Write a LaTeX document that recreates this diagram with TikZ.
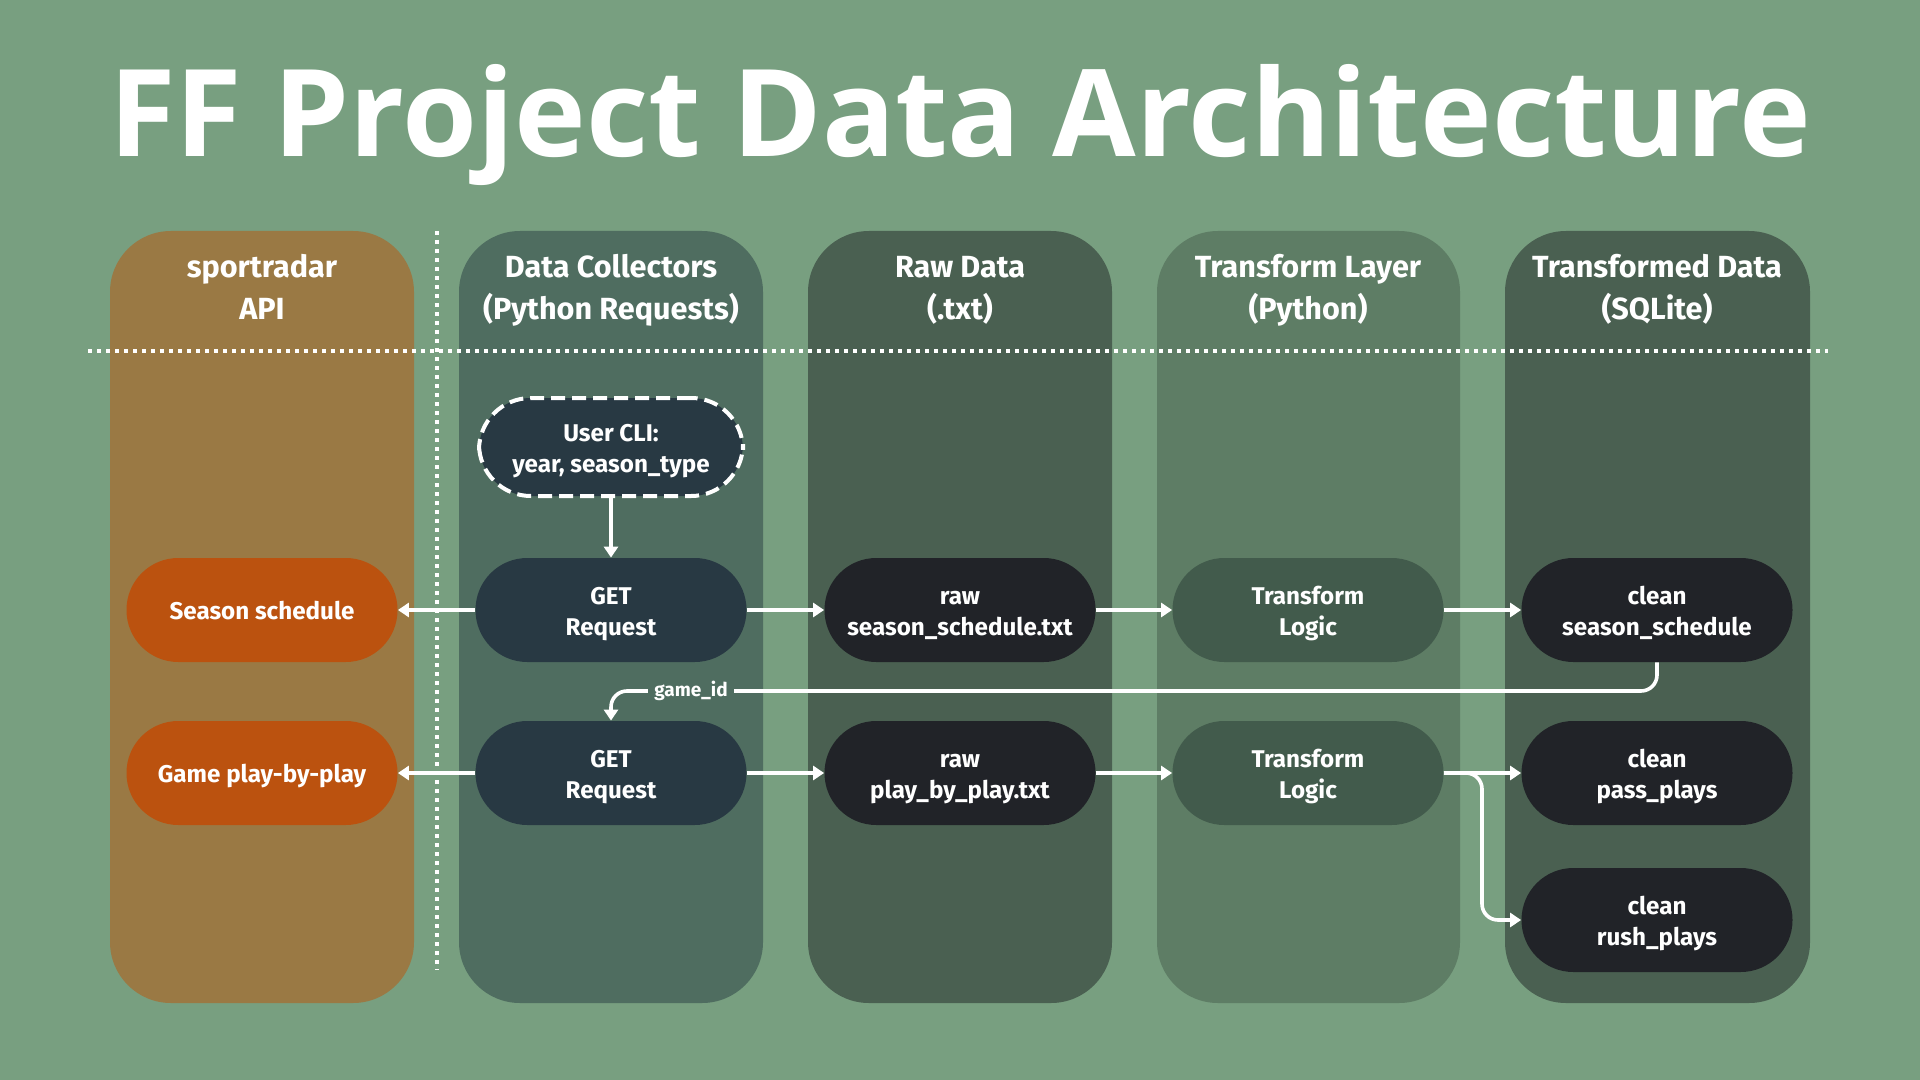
\documentclass[tikz,border=0pt]{standalone}
\usepackage{fontspec}
\setmainfont{Fira Sans}
\newfontfamily\titlefont{Open Sans}
\usetikzlibrary{arrows.meta}
\definecolor{bgc}{HTML}{789F80}
\definecolor{colA}{HTML}{9A7944}
\definecolor{colB}{HTML}{4F6D60}
\definecolor{colC}{HTML}{4A6051}
\definecolor{colD}{HTML}{5E7D65}
\definecolor{colE}{HTML}{4A6051}
\definecolor{orng}{HTML}{BB520F}
\definecolor{getc}{HTML}{283943}
\definecolor{darkc}{HTML}{212328}
\definecolor{trc}{HTML}{425B4C}
\newcommand\pst{\rule[-2.85pt]{0pt}{15.5pt}}
\tikzset{
  lane/.style={rounded corners=30.5pt},
  hdr/.style={text=white, font=\bfseries\fontsize{15.3pt}{20.8pt}\selectfont, align=center},
  pill/.style={rounded corners=25.9pt, minimum width=135.5pt, minimum height=52pt, text=white,
     font=\bfseries\fontsize{12.1pt}{15.5pt}\selectfont, align=center, inner sep=0pt},
  arr/.style={draw=white, line width=1.8pt, -{Triangle[length=5.5pt,width=7pt]}},
  dotline/.style={draw=white, line width=1.8pt, dash pattern=on 1.8pt off 2.7pt},
}
\begin{document}
\begin{tikzpicture}[x=0.5pt,y=-0.5pt]
\fill[bgc] (0,0) rectangle (1920,1080);
\useasboundingbox (0,0) rectangle (1920,1080);
% title
\node[text=white, font=\titlefont\bfseries\fontsize{60.6pt}{70pt}\selectfont, anchor=base] (title) at (960,157) {FF Project Data Architecture};
% lanes
\fill[colA, lane] (110,231) rectangle (414,1003);
\fill[colB, lane] (459,231) rectangle (763,1003);
\fill[colC, lane] (808,231) rectangle (1112,1003);
\fill[colD, lane] (1157,231) rectangle (1460,1003);
\fill[colE, lane] (1505,231) rectangle (1810,1003);
% dotted separators
\coordinate (vtop) at (437,231);
\coordinate (vbot) at (437,970);
\coordinate (hl) at (88,351);
\coordinate (hr) at (1828,351);
\draw[dotline] (vtop) -- (vbot);
\draw[dotline] (hl) -- (hr);
% headers
\node[hdr] (h1) at (262,290) {\strut sportradar\\\strut API};
\node[hdr] (h2) at (611,290) {\strut Data Collectors\\\strut (Python Requests)};
\node[hdr] (h3) at (960,290) {\strut Raw Data\\\strut (.txt)};
\node[hdr] (h4) at (1308,290) {\strut Transform Layer\\\strut (Python)};
\node[hdr] (h5) at (1657,290) {\strut Transformed Data\\\strut (SQLite)};
% nodes
\node[pill, fill=getc, draw=white, line width=2pt, dash pattern=on 7pt off 3.5pt, minimum width=132pt, minimum height=49pt] (cli) at (611,447) {\pst User CLI:\\\pst year, season\_type};
\node[pill, fill=orng] (s1) at (262,610) {\pst Season schedule};
\node[pill, fill=getc] (g1) at (611,610) {\pst GET\\\pst Request};
\node[pill, fill=darkc] (r1) at (960,610) {\pst raw\\\pst season\_schedule.txt};
\node[pill, fill=trc] (t1) at (1308,610) {\pst Transform\\\pst Logic};
\node[pill, fill=darkc] (c1) at (1657,610) {\pst clean\\\pst season\_schedule};
\node[pill, fill=orng] (s2) at (262,773) {\pst Game play-by-play};
\node[pill, fill=getc] (g2) at (611,773) {\pst GET\\\pst Request};
\node[pill, fill=darkc] (r2) at (960,773) {\pst raw\\\pst play\_by\_play.txt};
\node[pill, fill=trc] (t2) at (1308,773) {\pst Transform\\\pst Logic};
\node[pill, fill=darkc] (c2) at (1657,773) {\pst clean\\\pst pass\_plays};
\node[pill, fill=darkc] (c3) at (1657,920) {\pst clean\\\pst rush\_plays};
% connectors
\draw[arr] (cli) -- (g1);
\draw[arr] (g1) -- (s1);
\draw[arr] (g1) -- (r1);
\draw[arr] (r1) -- (t1);
\draw[arr] (t1) -- (c1);
\draw[arr] (g2) -- (s2);
\draw[arr] (g2) -- (r2);
\draw[arr] (r2) -- (t2);
\draw[arr] (t2) -- (c2);
\coordinate (bx) at (1482,773);
\coordinate (by) at (1482,920);
\draw[arr, rounded corners=8pt] (t2.east) -- (bx) -- (by) -- (c3.west);
\coordinate (gr) at (1657,691);
\coordinate (gl) at (611,691);
\draw[arr, rounded corners=8pt] (c1.south) -- (gr) -- (gl) -- (g2.north);
\node[fill=colB, text=white, font=\bfseries\fontsize{9.5pt}{11pt}\selectfont, inner xsep=3pt, inner ysep=1pt] (gid) at (691,691) {game\_id};
\end{tikzpicture}
\end{document}
